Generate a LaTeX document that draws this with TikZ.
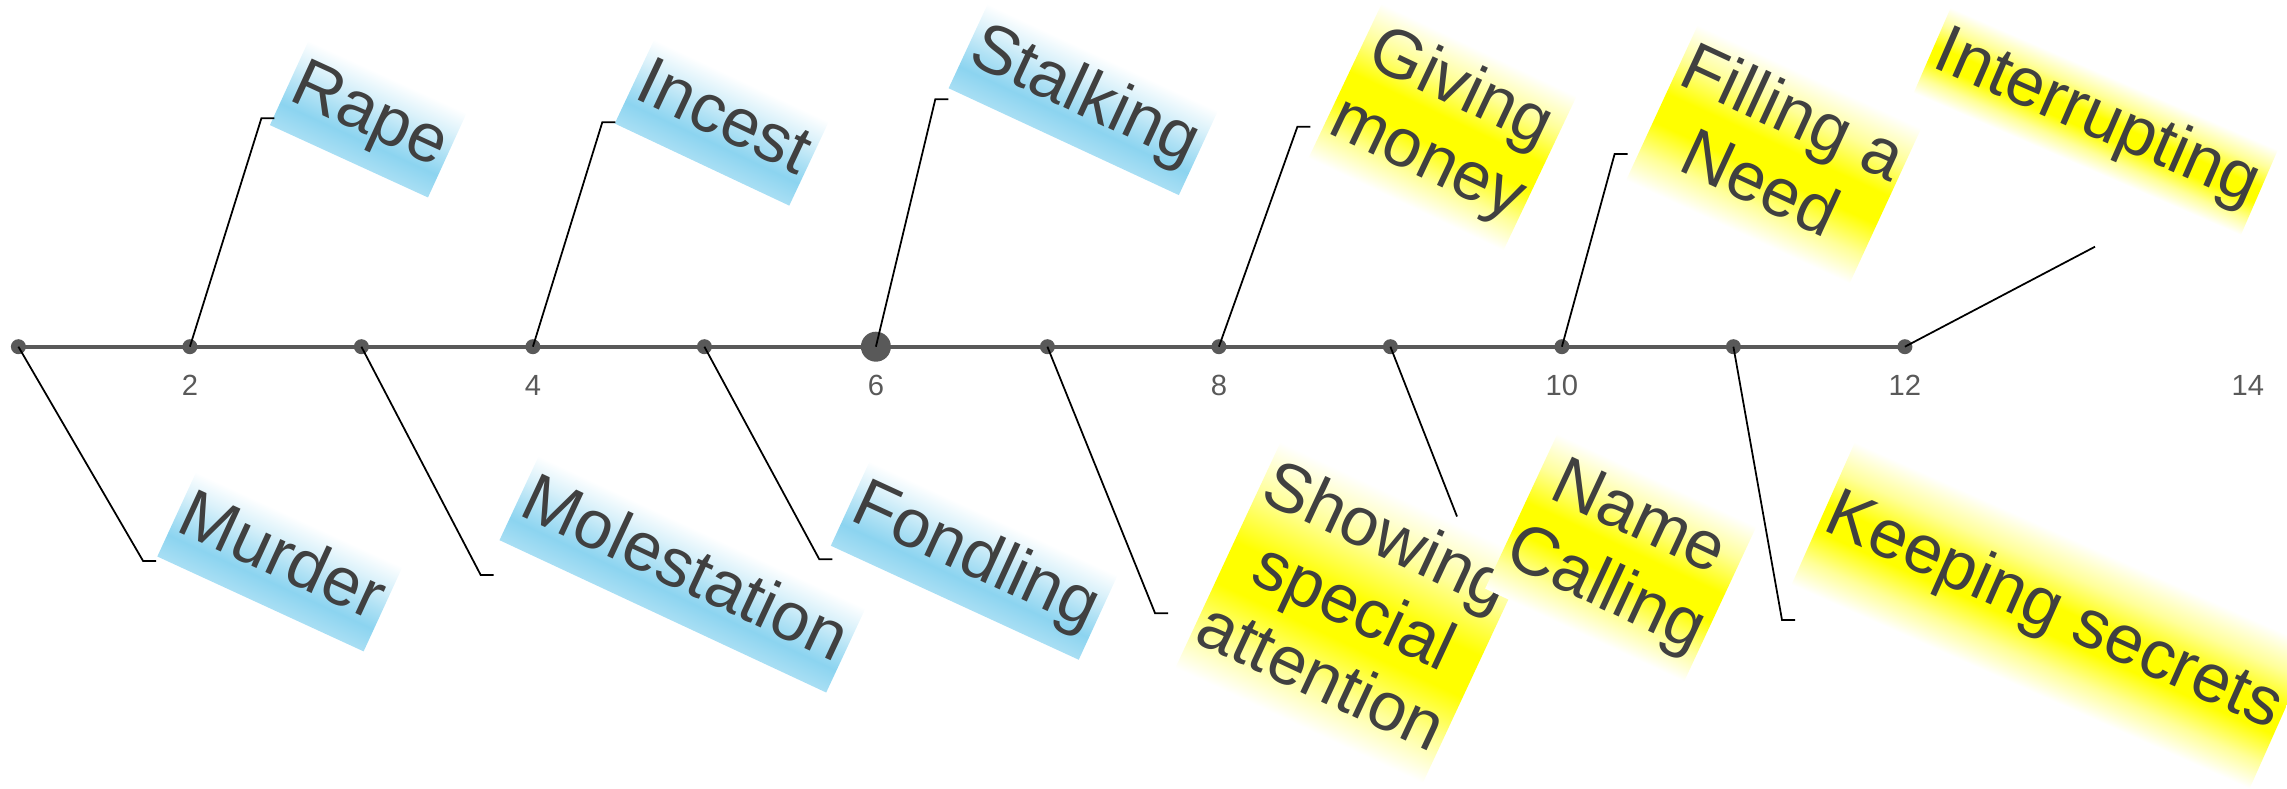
\documentclass[tikz,border=0pt]{standalone}
\usepackage{fontspec}
\setmainfont{Liberation Sans}
\definecolor{axisgray}{RGB}{89,89,89}
\definecolor{labtext}{RGB}{64,64,64}
\definecolor{skyb}{RGB}{140,212,240}
\pgfdeclareverticalshading{labblue}{100bp}{color(0bp)=(skyb!75); color(25bp)=(skyb!75); color(38bp)=(skyb); color(50bp)=(skyb!68); color(62bp)=(skyb!32); color(75bp)=(white); color(100bp)=(white)}
\pgfdeclareverticalshading{labyellow}{100bp}{color(0bp)=(white); color(25bp)=(white); color(34bp)=(yellow!40); color(44bp)=(yellow); color(53bp)=(yellow); color(64bp)=(yellow!40); color(75bp)=(white); color(100bp)=(white)}
\tikzset{
  dot/.style={circle, fill=axisgray, inner sep=0pt, minimum size=1.5mm},
  bigdot/.style={circle, fill=axisgray, inner sep=0pt, minimum size=3mm},
  ticklab/.style={text=axisgray, font=\fontsize{8.3}{10}\selectfont},
  lab/.style={text=labtext, font=\fontsize{19.5}{22.2}\selectfont, inner xsep=0.5mm, inner ysep=0.75mm, align=center},
  bluelab/.style={lab, shade, shading=labblue},
  yellowlab/.style={lab, shade, shading=labyellow},
  tilt/.style n args={3}{transform canvas={shift={(#1,#2)}, rotate=#3}},
  leader/.style={black, line width=0.5pt}
}
\begin{document}
\begin{tikzpicture}[x=1mm, y=1mm]
\useasboundingbox (0,0) rectangle (228.7,-78.9);
\foreach \i/\st in {1/dot,2/dot,3/dot,4/dot,5/dot,6/bigdot,7/dot,8/dot,9/dot,10/dot,11/dot,12/dot}
  \node[\st] (d\i) at ({1.84+(\i-1)*17.15},-34.67) {};
\draw [axisgray, line width=1.1pt] (d1.center) -- (d12.center);
\foreach \v in {2,4,...,14}
  \node[ticklab] (t\v) at ({1.84+(\v-1)*17.15},-38.5) {\v};
\path [tilt={36.83}{-11.9}{-24.6}] node[bluelab] (rape) {\strut Rape};
\path [tilt={72.18}{-12.25}{-25.2}] node[bluelab] (incest) {\strut Incest};
\path [tilt={108.33}{-9.95}{-24.9}] node[bluelab] (stalk) {\strut Stalking};
\path [tilt={144.26}{-12.7}{-25.4}] node[yellowlab] (giving) {\strut Giving\\money\strut};
\path [tilt={177.37}{-15.42}{-24.8}] node[yellowlab] (filling) {\strut Filling a\\Need\strut};
\path [tilt={209.58}{-12.13}{-23.5}] node[yellowlab] (interr) {\strut Interrupting};
\path [tilt={27.99}{-56.17}{-24.7}] node[bluelab] (murder) {\strut Murder};
\path [tilt={68.25}{-57.42}{-25}] node[bluelab] (molest) {\strut Molestation};
\path [tilt={97.42}{-56.05}{-24.7}] node[bluelab] (fondl) {\strut Fondling};
\path [tilt={135.17}{-61.25}{-25}] node[yellowlab] (showing) {\strut Showing\\special\\attention\strut};
\path [tilt={162.08}{-55.75}{-25}] node[yellowlab] (namecall) {\strut Name\\Calling\strut};
\path [tilt={205.23}{-61.53}{-24}] node[yellowlab, minimum height=15.6mm] (keeping) {\strut Keeping secrets};
\coordinate (rape-end) at (27.44,-11.83);
\coordinate (incest-end) at (61.53,-12.23);
\coordinate (stalk-end) at (94.83,-9.93);
\coordinate (giving-end) at (131.04,-12.67);
\coordinate (filling-end) at (162.76,-15.4);
\coordinate (murder-end) at (15.61,-56.1);
\coordinate (molest-end) at (49.37,-57.5);
\coordinate (fondl-end) at (83.23,-55.93);
\coordinate (showing-end) at (116.81,-61.33);
\coordinate (keeping-end) at (179.5,-62);
\coordinate (namecall-end) at (145.7,-51.65);
\coordinate (interr-end) at (209.5,-24.67);
\foreach \lab/\d in {rape/2,incest/4,stalk/6,giving/8,filling/10,murder/1,molest/3,fondl/5,showing/7,keeping/11}
  \draw [leader] (\lab-end) -- ++(-1.3,0) -- (d\d.center);
\draw [leader] (d12.center) -- (interr-end);
\draw [leader] (d9.center) -- (namecall-end);
\end{tikzpicture}
\end{document}
